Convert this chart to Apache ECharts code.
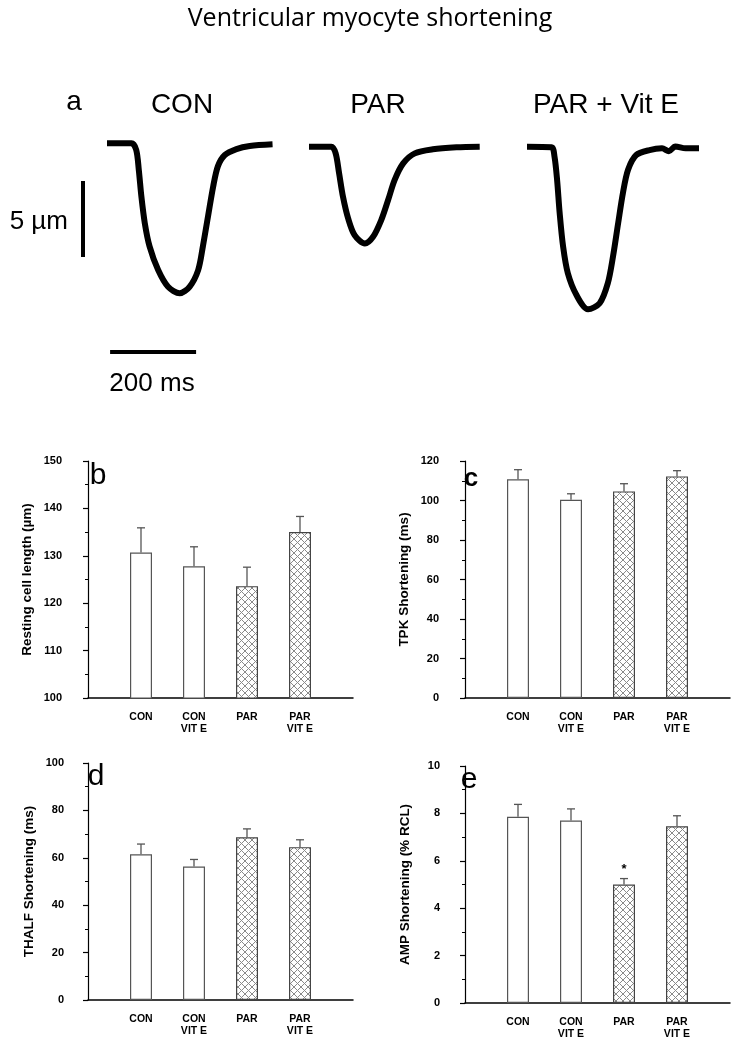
<!DOCTYPE html>
<html><head><meta charset="utf-8">
<script src="https://cdn.jsdelivr.net/npm/echarts@6/dist/echarts.min.js"></script>
<style>html,body{margin:0;padding:0;background:#fff}#c{width:736px;height:1044px}</style>
</head><body><div id="c"></div>
<script>
// ---------- DATA ----------
const title = 'Ventricular myocyte shortening';
const traceLabels = ['CON', 'PAR', 'PAR + Vit E'];
// Representative shortening traces: [time (ms), length change (µm)]
const conTrace = [[0,0],[57,0],[68,-0.44],[74,-1.76],[80,-3.51],[88,-5.27],[99,-6.78],[119,-8.34],[142,-9.44],[169,-9.87],[192,-9.44],[212,-8.34],[223,-6.78],[235,-4.8],[247,-2.83],[258,-1.5],[274,-0.77],[301,-0.38],[332,-0.18],[385,-0.07]];
const parTrace = [[0,0],[52,0],[62,-0.44],[70,-1.75],[79,-3.29],[91,-4.72],[106,-5.82],[130,-6.37],[149,-5.93],[168,-4.83],[184,-3.51],[199,-2.2],[219,-1.1],[246,-0.44],[288,-0.17],[343,-0.04],[397,0]];
const parVitETrace = [[0,0],[57,-0.04],[64,-0.66],[70,-2.19],[76,-4.38],[84,-6.58],[95,-8.33],[115,-9.76],[142,-10.7],[169,-10.3],[188,-8.98],[200,-7.23],[212,-5.03],[223,-3.06],[235,-1.52],[254,-0.55],[285,-0.22],[314,-0.11],[330,-0.3],[345,0.02],[369,-0.11],[400,-0.11]];
const scaleBarUm = 5;
const scaleBarMs = 200;

const categories = ['CON', 'CON\nVIT E', 'PAR', 'PAR\nVIT E'];
const fillTypes = ['plain', 'plain', 'hatch', 'hatch'];
const restingLength = [130.7, 127.8, 123.6, 135.0];
const restingLengthErr = [5.2, 4.1, 4.0, 3.3];
const tpkShortening = [110.7, 100.4, 104.6, 112.2];
const tpkShorteningErr = [4.9, 3.0, 3.9, 2.9];
const thalfShortening = [61.5, 56.3, 68.7, 64.5];
const thalfShorteningErr = [4.3, 3.0, 3.5, 3.1];
const ampShortening = [7.86, 7.70, 5.00, 7.46];
const ampShorteningErr = [0.52, 0.49, 0.25, 0.44];
const ampSignificance = ['', '', '*', ''];
const noSignificance = ['', '', '', ''];

const yTicksB = {min: 100, max: 150, interval: 10};
const yTicksC = {min: 0, max: 120, interval: 20};
const yTicksD = {min: 0, max: 100, interval: 20};
const yTicksE = {min: 0, max: 10, interval: 2};

// ---------- RENDER ----------
const chart = echarts.init(document.getElementById('c'), null, {renderer: 'canvas'});
const FONT = 'Arial, "Liberation Sans", sans-serif';
const PX_MS = 0.43, PX_UM = 15.2;

function hatchCanvas() {
  const s = 7, c = document.createElement('canvas');
  c.width = s; c.height = s;
  const g = c.getContext('2d');
  g.fillStyle = '#fff'; g.fillRect(0, 0, s, s);
  g.strokeStyle = '#8a8a8a'; g.lineWidth = 1;
  g.beginPath();
  g.moveTo(0, 0); g.lineTo(s, s);
  g.moveTo(s, 0); g.lineTo(0, s);
  g.stroke();
  return c;
}
const hatch = hatchCanvas();

const grids = [];
const xAxes = [];
const yAxes = [];
const series = [];

// trace grids
function traceGrid(data, left, baseline, tMax) {
  const yMax = 0.5, yMin = -11.5;
  const idx = grids.length;
  grids.push({left: left, top: baseline - yMax * PX_UM, width: tMax * PX_MS, height: (yMax - yMin) * PX_UM});
  xAxes.push({gridIndex: idx, type: 'value', min: 0, max: tMax, show: false});
  yAxes.push({gridIndex: idx, type: 'value', min: yMin, max: yMax, show: false});
  series.push({type: 'line', xAxisIndex: idx, yAxisIndex: idx, data: data, showSymbol: false, smooth: 0.3,
    lineStyle: {color: '#000', width: 6, cap: 'butt', join: 'round'}, silent: true, clip: false});
}
traceGrid(conTrace, 107, 143.3, 390);
traceGrid(parTrace, 309, 146.7, 400);
traceGrid(parVitETrace, 527, 146.7, 400);

// scale bar grid
(function () {
  const idx = grids.length;
  const tMax = 263, yMin = -11.25;
  grids.push({left: 83, top: 181, width: tMax * PX_MS, height: -yMin * PX_UM});
  xAxes.push({gridIndex: idx, type: 'value', min: 0, max: tMax, show: false});
  yAxes.push({gridIndex: idx, type: 'value', min: yMin, max: 0, show: false});
  series.push({type: 'line', xAxisIndex: idx, yAxisIndex: idx, data: [[0, 0], [0, -scaleBarUm]], showSymbol: false,
    lineStyle: {color: '#000', width: 4, cap: 'butt'}, clip: false, silent: true});
  series.push({type: 'line', xAxisIndex: idx, yAxisIndex: idx, data: [[tMax - scaleBarMs, yMin], [tMax, yMin]], showSymbol: false,
    lineStyle: {color: '#000', width: 4, cap: 'butt'}, clip: false, silent: true});
})();

function barPanel(box, yName, ticks, values, errs, sig, yOffset) {
  const idx = grids.length;
  grids.push(box);
  xAxes.push({gridIndex: idx, type: 'value', min: 0, max: 5, interval: 1,
    axisLine: {show: true, lineStyle: {color: '#000', width: 1.5}},
    axisTick: {show: false}, splitLine: {show: false},
    axisLabel: {formatter: v => categories[v - 1] || '', color: '#000', fontWeight: 'bold', fontSize: 10.5,
      fontFamily: FONT, lineHeight: 12, margin: 13}});
  yAxes.push({gridIndex: idx, type: 'value', min: ticks.min, max: ticks.max, interval: ticks.interval, offset: yOffset,
    name: yName, nameLocation: 'middle', nameGap: 36,
    nameTextStyle: {color: '#000', fontWeight: 'bold', fontSize: 13.5, fontFamily: FONT},
    axisLine: {show: true, lineStyle: {color: '#000', width: 1.2}},
    axisTick: {show: true, length: 5, lineStyle: {color: '#000', width: 1.2}},
    minorTick: {show: true, splitNumber: 2, length: 3, lineStyle: {color: '#000', width: 1}},
    splitLine: {show: false},
    axisLabel: {color: '#000', fontWeight: 'bold', fontSize: 11, fontFamily: FONT, margin: 8}});
  series.push({type: 'bar', xAxisIndex: idx, yAxisIndex: idx, barWidth: 22, clip: true, silent: true,
    data: values.map((v, i) => ({value: [i + 1, v], itemStyle: fillTypes[i] === 'hatch'
      ? {color: {image: hatch, repeat: 'repeat'}, borderColor: '#444', borderWidth: 1.2}
      : {color: '#fff', borderColor: '#555', borderWidth: 1.2}}))});
  series.push({type: 'custom', xAxisIndex: idx, yAxisIndex: idx, silent: true, clip: false,
    data: values.map((v, i) => [i + 1, v, errs[i], sig[i]]),
    renderItem: function (params, api) {
      const x = api.value(0), m = api.value(1), e = api.value(2);
      const p0 = api.coord([x, m]);
      const p1 = api.coord([x, m + e]);
      const st = {stroke: '#555', lineWidth: 1.3};
      const children = [
        {type: 'line', shape: {x1: p0[0], y1: p0[1], x2: p1[0], y2: p1[1]}, style: st},
        {type: 'line', shape: {x1: p1[0] - 4, y1: p1[1], x2: p1[0] + 4, y2: p1[1]}, style: st}
      ];
      const s = sig[params.dataIndex];
      if (s) children.push({type: 'text', style: {text: s, x: p1[0], y: p1[1] - 3, align: 'center', verticalAlign: 'bottom',
        textAlign: 'center', textVerticalAlign: 'bottom', font: 'bold 13px ' + FONT, fill: '#000'}});
      return {type: 'group', children: children};
    }});
}

barPanel({left: 88, top: 461, width: 265, height: 237}, 'Resting cell length (µm)', yTicksB, restingLength, restingLengthErr, noSignificance, 18);
barPanel({left: 465, top: 461, width: 265, height: 237}, 'TPK Shortening (ms)', yTicksC, tpkShortening, tpkShorteningErr, noSignificance, 18);
barPanel({left: 88, top: 763, width: 265, height: 237}, 'THALF Shortening (ms)', yTicksD, thalfShortening, thalfShorteningErr, noSignificance, 16);
barPanel({left: 465, top: 766, width: 265, height: 237}, 'AMP Shortening (% RCL)', yTicksE, ampShortening, ampShorteningErr, ampSignificance, 17);

function txt(text, x, y, font, align) {
  return {type: 'text', silent: true, style: {text: text, x: x, y: y, font: font, fill: '#000',
    textAlign: align || 'center', textVerticalAlign: 'middle', align: align || 'center', verticalAlign: 'middle'}};
}
const graphics = [
  txt(title, 370, 19, '25px "Open Sans", sans-serif'),
  txt('a', 74, 102, '28px ' + FONT),
  txt(traceLabels[0], 182, 105, '28px ' + FONT),
  txt(traceLabels[1], 378, 105, '28px ' + FONT),
  txt(traceLabels[2], 606, 105, '28px ' + FONT),
  txt(scaleBarUm + ' µm', 68, 222, '26px ' + FONT, 'right'),
  txt(scaleBarMs + ' ms', 152, 384, '26px ' + FONT),
  txt('b', 98, 476, '30px ' + FONT),
  txt('c', 471, 479, 'bold 26px ' + FONT),
  txt('d', 96, 777, '30px ' + FONT),
  txt('e', 469, 780, '30px ' + FONT)
];

chart.setOption({
  animation: false,
  backgroundColor: '#fff',
  grid: grids,
  xAxis: xAxes,
  yAxis: yAxes,
  series: series,
  graphic: graphics
});
</script></body></html>
